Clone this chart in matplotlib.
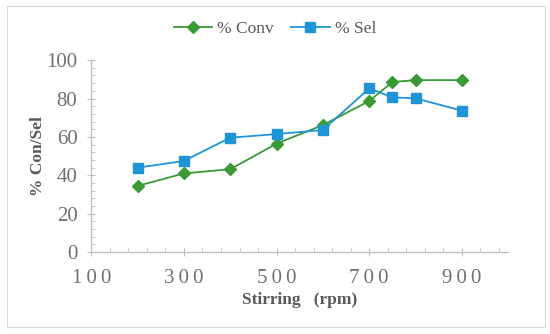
import matplotlib
matplotlib.use("Agg")
import matplotlib.pyplot as plt
from matplotlib.patches import Rectangle
from matplotlib.ticker import MultipleLocator, FixedLocator

# stirring speed (rpm) and measured percentages
rpm = [200, 300, 400, 500, 600, 700, 750, 800, 900]
conv = [34.5, 41.0, 43.2, 56.5, 66.2, 78.7, 88.6, 89.6, 89.6]
sel = [44.0, 47.5, 59.6, 61.5, 63.6, 85.3, 80.6, 80.1, 73.7]

x_ticks = [100, 300, 500, 700, 900]
x_tick_labels = ["1\u20090\u20090", "3\u20090\u20090", "5\u20090\u20090", "7\u20090\u20090", "9\u20090\u20090"]
y_ticks = [0, 20, 40, 60, 80, 100]

green = "#3a9b35"
blue = "#1f95d6"
gray = "#595959"
tick_gray = "#707070"
axis_gray = "#bfbfbf"

plt.rcParams["font.family"] = ["Liberation Serif", "DejaVu Serif"]

fig = plt.figure(figsize=(5.5, 3.34), dpi=100)
ax = fig.add_axes([0.166, 0.245, 0.758, 0.575])

ax.plot(rpm, conv, color=green, marker="D", markersize=6, linewidth=1.3, label="% Conv")
ax.plot(rpm, sel, color=blue, marker="s", markersize=7, linewidth=1.3, label="% Sel")

ax.set_xlim(100, 1000)
ax.set_ylim(0, 100)
ax.set_xticks(x_ticks)
ax.set_xticklabels(x_tick_labels)
ax.set_yticks(y_ticks)
ax.xaxis.set_minor_locator(FixedLocator(list(range(140, 1000, 40))))
ax.yaxis.set_minor_locator(MultipleLocator(4))

for side in ["top", "right"]:
    ax.spines[side].set_visible(False)
for side in ["left", "bottom"]:
    ax.spines[side].set_color(axis_gray)
    ax.spines[side].set_linewidth(0.9)

ax.tick_params(which="major", direction="inout", length=6, width=0.8, color=axis_gray,
               labelsize=15, labelcolor=tick_gray)
ax.tick_params(axis="x", which="major", pad=9)
ax.tick_params(axis="y", which="major", pad=7)
ax.tick_params(which="minor", direction="in", length=3, width=0.6, color=axis_gray)

ax.set_xlabel("Stirring   (rpm)", fontsize=12.5, fontweight="bold", color=gray, labelpad=3)
ax.set_ylabel("% Con/Sel", fontsize=12.5, fontweight="bold", color=gray, labelpad=0)

fig.legend(loc="upper center", bbox_to_anchor=(0.5, 0.985), ncol=2, frameon=False,
           fontsize=12.5, labelcolor=gray, handlelength=2.2, handletextpad=0.3,
           columnspacing=1.0)

# light chart border
fig.patches.append(Rectangle((0.012, 0.02), 0.978, 0.962, transform=fig.transFigure,
                             fill=False, edgecolor="#d9d9d9", linewidth=0.8))

fig.savefig("out.png", dpi=100)
